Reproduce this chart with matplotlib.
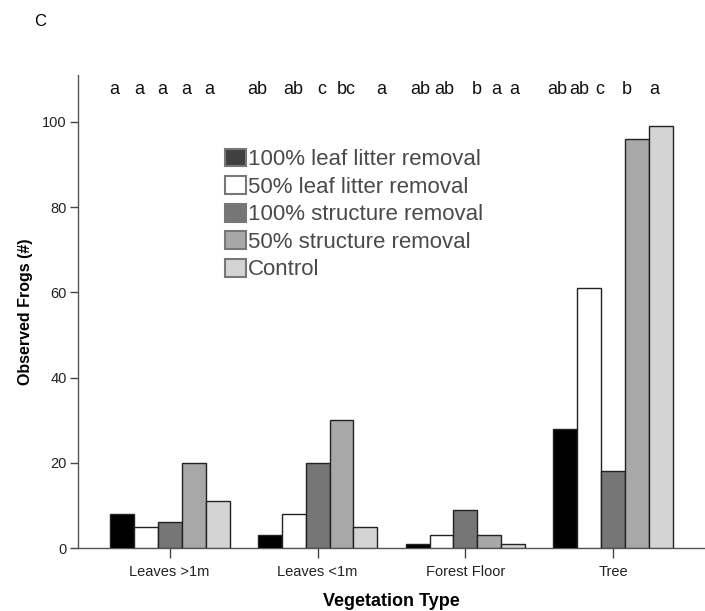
import matplotlib
matplotlib.use("Agg")
import matplotlib.pyplot as plt
import numpy as np

plt.rcParams["font.family"] = ["Liberation Sans", "DejaVu Sans"]

categories = ["Leaves >1m", "Leaves <1m", "Forest Floor", "Tree"]
series_names = ["100% leaf litter removal", "50% leaf litter removal",
                "100% structure removal", "50% structure removal", "Control"]
values = {
    "100% leaf litter removal": [8, 3, 1, 28],
    "50% leaf litter removal": [5, 8, 3, 61],
    "100% structure removal": [6, 20, 9, 18],
    "50% structure removal": [20, 30, 3, 96],
    "Control": [11, 5, 1, 99],
}
colors = ["#000000", "#ffffff", "#767676", "#a8a8a8", "#d4d4d4"]
legend_colors = ["#404040", "#ffffff", "#767676", "#a8a8a8", "#d4d4d4"]
yticks = [0, 20, 40, 60, 80, 100]

# significance letters per group
letters = [
    ["a", "a", "a", "a", "a"],
    ["ab", "ab", "c", "bc", "a"],
    ["ab", "ab", "b", "a", "a"],
    ["ab", "ab", "c", "b", "a"],
]
letter_px = [
    [115, 140, 163, 187, 210],
    [258, 294, 322, 347, 382],
    [421, 445, 477, 497, 515],
    [558, 580, 600, 627, 655],
]

fig = plt.figure(figsize=(7.05, 6.11), dpi=100)
ax = fig.add_axes([78/705, 63/611, 627/705, 473/611])

n = len(series_names)
w = 0.162
x = np.arange(len(categories))
for i, name in enumerate(series_names):
    ax.bar(x + (i - 2) * w, values[name], width=w, color=colors[i],
           edgecolor="#222222", linewidth=1.0, zorder=3)

ax.set_xlim(-0.62, 3.62)
ax.set_ylim(0, 111)
ax.set_yticks(yticks)
ax.set_xticks(x)
ax.set_xticklabels(categories, fontsize=10.5, color="#222222")
ax.tick_params(axis="y", labelsize=10.5, length=6, width=1, color="#444444",
               pad=2, labelcolor="#222222")
ax.tick_params(axis="x", length=7, width=1, color="#444444", pad=5)
for s in ["top", "right"]:
    ax.spines[s].set_visible(False)
for s in ["left", "bottom"]:
    ax.spines[s].set_color("#555555")
    ax.spines[s].set_linewidth(1.0)

ax.set_ylabel("Observed Frogs (#)", fontsize=11.5, fontweight="bold", labelpad=7)
ax.set_xlabel("Vegetation Type", fontsize=13, fontweight="bold", labelpad=10)

for g in range(len(categories)):
    for j, lab in enumerate(letters[g]):
        xd = (letter_px[g][j] - 170) / 148.0
        ax.text(xd, 107.5, lab, ha="center", va="center", fontsize=13,
                color="#111111")

handles = [plt.Rectangle((0, 0), 1, 1, facecolor=legend_colors[i],
                         edgecolor="#777777", linewidth=1.5) for i in range(n)]
leg = ax.legend(handles, series_names, loc="upper left",
                bbox_to_anchor=(0.2195, 0.863), frameon=False, fontsize=16,
                handlelength=0.95, handleheight=0.85, handletextpad=0.12,
                labelspacing=0.27, borderaxespad=0)
for t in leg.get_texts():
    t.set_color("#4a4a4a")

fig.text(40/705, 1 - 22/611, "C", fontsize=12, ha="center", va="center")

fig.savefig("out.png", dpi=100)
